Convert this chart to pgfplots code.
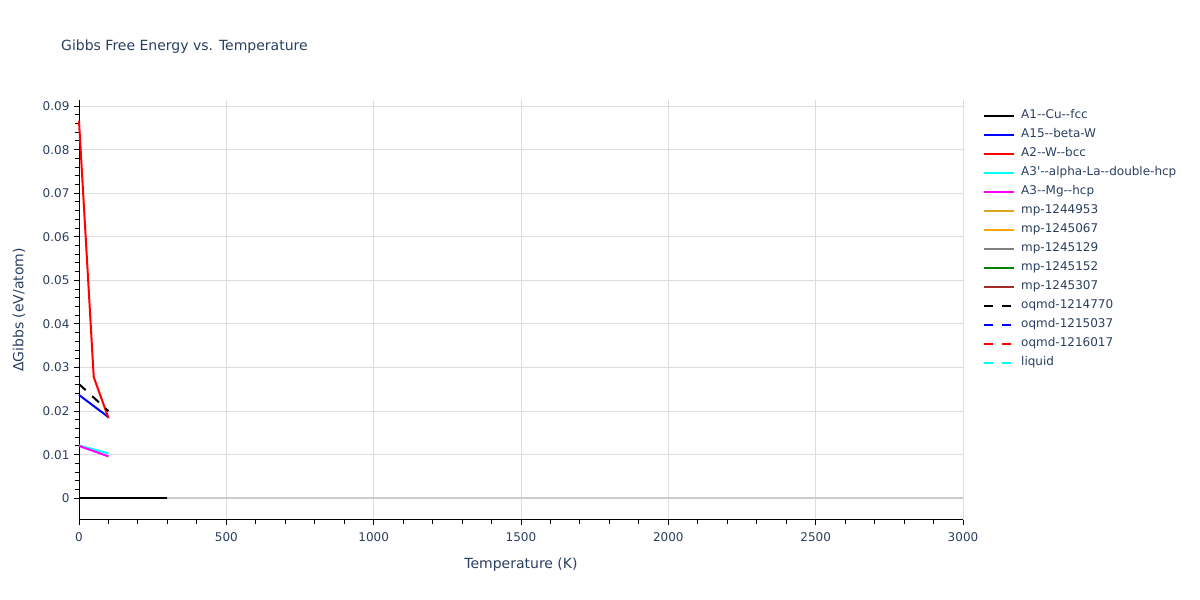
\documentclass[border=0pt]{standalone}
\usepackage{fontspec}
\setmainfont{DejaVu Sans}[Ligatures=TeXOff]
\usepackage{pgfplots}
\pgfplotsset{compat=1.18}
\definecolor{txt}{HTML}{2A3F5F}
\definecolor{gridc}{HTML}{DDDDDD}
\definecolor{zeroc}{HTML}{CCCCCC}
\definecolor{goldc}{HTML}{DAA520}
\definecolor{orangec}{HTML}{FFA500}
\definecolor{grayc}{HTML}{808080}
\definecolor{greenc}{HTML}{008000}
\definecolor{brownc}{HTML}{A52A2A}
\definecolor{cyanc}{HTML}{00FFFF}
\definecolor{magc}{HTML}{FF00FF}
\definecolor{bluec}{HTML}{0000FF}
\definecolor{redc}{HTML}{FF0000}
\begin{document}
\begin{tikzpicture}[x=1pt,y=1pt]
\path[use as bounding box] (0,0) rectangle (1200,600);
\begin{axis}[
  at={(79pt,80pt)}, anchor=south west,
  scale only axis, width=884pt, height=420pt,
  xmin=0, xmax=3000, ymin=-0.005, ymax=0.0914,
  scaled y ticks=false, scaled x ticks=false,
  axis x line*=bottom, axis y line*=left,
  axis line style={black, line width=1pt},
  xtick={0,500,1000,1500,2000,2500,3000},
  xticklabels={0,500,1000,1500,2000,2500,3000},
  ytick={0,0.01,0.02,0.03,0.04,0.05,0.06,0.07,0.08,0.09},
  yticklabels={0,0.01,0.02,0.03,0.04,0.05,0.06,0.07,0.08,0.09},
  minor x tick num=4, minor y tick num=4,
  tick align=outside, major tick length=5pt, minor tick length=4pt,
  every tick/.style={black, line width=1pt},
  grid=major, major grid style={gridc, line width=1pt},
  tick label style={font=\fontsize{12}{14}\selectfont, text=txt},
  xticklabel style={yshift=-4pt},
  yticklabel style={xshift=-1pt},
  clip=false,
  legend style={at={(1.0192,0.984)}, anchor=north west, draw=none, fill=none,
    font=\fontsize{12}{14}\selectfont, text=txt, row sep=5pt,
    nodes={inner sep=0pt, text height=10pt, text depth=4pt}},
  legend cell align=left,
  legend image code/.code={\draw[#1, line width=2pt] (0pt,0pt) -- (30pt,0pt); \path (36pt,0pt);},
]
\addplot[zeroc, line width=2pt, forget plot] coordinates {(0,0) (3000,0)};
\addplot[black, line width=2pt] coordinates {(0,0) (300,0)};
\addlegendentry{A1--Cu--fcc}
\addplot[bluec, line width=2pt] coordinates {(0,0.0237) (100,0.0186)};
\addlegendentry{A15--beta-W}
\addplot[redc, line width=2pt] coordinates {(0,0.0866) (50,0.0278) (100,0.0184)};
\addlegendentry{A2--W--bcc}
\addplot[cyanc, line width=2pt] coordinates {(0,0.0121) (100,0.0103)};
\addlegendentry{A3'--alpha-La--double-hcp}
\addplot[magc, line width=2pt] coordinates {(0,0.0120) (100,0.0096)};
\addlegendentry{A3--Mg--hcp}
\addlegendimage{goldc}
\addlegendentry{mp-1244953}
\addlegendimage{orangec}
\addlegendentry{mp-1245067}
\addlegendimage{grayc}
\addlegendentry{mp-1245129}
\addlegendimage{greenc}
\addlegendentry{mp-1245152}
\addlegendimage{brownc}
\addlegendentry{mp-1245307}
\addplot[black, line width=2pt, dash pattern=on 9pt off 9pt] coordinates {(0,0.0262) (100,0.0200)};
\addlegendentry{oqmd-1214770}
\addlegendimage{bluec, dash pattern=on 9pt off 9pt}
\addlegendentry{oqmd-1215037}
\addlegendimage{redc, dash pattern=on 9pt off 9pt}
\addlegendentry{oqmd-1216017}
\addlegendimage{cyanc, dash pattern=on 9pt off 9pt}
\addlegendentry{liquid}
\end{axis}
\node[anchor=west, inner sep=0pt, font=\fontsize{14}{17}\selectfont, text=txt] at (61,553) {Gibbs Free Energy vs. Temperature};
\node[font=\fontsize{14}{17}\selectfont, text=txt] at (521,35) {Temperature (K)};
\node[rotate=90, font=\fontsize{14}{17}\selectfont, text=txt] at (19,290) {ΔGibbs (eV/atom)};
\end{tikzpicture}
\end{document}
